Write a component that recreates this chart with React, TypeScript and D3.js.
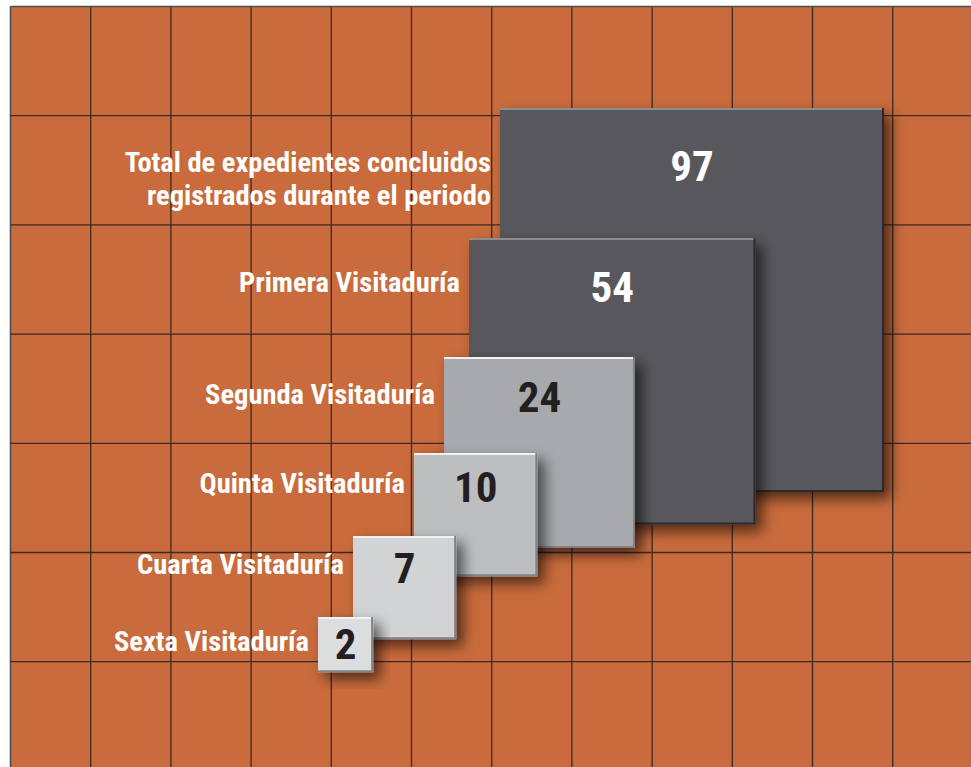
import React from "react";
import * as d3 from "d3";

const categories = [
  "Total de expedientes concluidos\nregistrados durante el periodo",
  "Primera Visitaduría",
  "Segunda Visitaduría",
  "Quinta Visitaduría",
  "Cuarta Visitaduría",
  "Sexta Visitaduría",
];
const values = [97, 54, 24, 10, 7, 2];

// layout (pixels): left / top anchor of each square
const anchorX = [500, 469, 444, 414, 353, 318];
const anchorY = [108, 238, 357, 453, 536, 617];
const fills = ["#58595B", "#58595B", "#A7A9AC", "#BCBEC0", "#D1D3D4", "#DCDDDE"];
const textFills = ["#FFFFFF", "#FFFFFF", "#231F20", "#231F20", "#231F20", "#231F20"];

const W = 971;
const H = 767;
const FONT = "'Liberation Sans Narrow', 'Arial Narrow', 'Roboto Condensed', sans-serif";

export default function App() {
  const side = d3.scaleSqrt().domain([0, 97]).range([0, 384]);
  const colX = d3.range(12).map((i) => 10.5 + i * 80.2);
  const rowY = d3.range(7).map((j) => 6.5 + j * 109.2);

  const order = d3.range(values.length);

  return (
    <div style={{ position: "absolute", left: 0, top: 0 }}>
      <svg width={W} height={H} style={{ display: "block" }}>
        <defs>
          <filter id="shadow" x="-20%" y="-20%" width="150%" height="150%">
            <feDropShadow dx="7" dy="7" stdDeviation="7" floodColor="#000" floodOpacity="0.6" />
          </filter>
        </defs>
        <rect x={0} y={0} width={W} height={H} fill="#fff" />
        <rect x={10.5} y={6.5} width={W} height={H} fill="#C96B3C" />
        {colX.map((x, i) => (
          <line key={"c" + i} x1={x} x2={x} y1={6.5} y2={H} stroke={i === 0 ? "#4d4d4d" : "#3b2a22"} strokeWidth={i === 0 ? 1.6 : 1.3} />
        ))}
        {rowY.map((y, j) => (
          <line key={"r" + j} x1={10.5} x2={W} y1={y} y2={y} stroke={j === 0 ? "#4d4d4d" : "#3b2a22"} strokeWidth={j === 0 ? 1.6 : 1.3} />
        ))}
        {order.map((i) => {
          const s = side(values[i]);
          const x = anchorX[i];
          const y = anchorY[i];
          const dark = i < 2;
          const numY = y + 22 + 0.095 * s;
          return (
            <g key={i}>
              <rect x={x} y={y} width={s} height={s} fill={fills[i]} filter="url(#shadow)" />
              <line x1={x} x2={x + s} y1={y + 1} y2={y + 1} stroke={dark ? "#8c8d8f" : "#f2f2f2"} strokeWidth={2} />
              <line x1={x + s - 1} x2={x + s - 1} y1={y} y2={y + s} stroke={dark ? "#2a2a2b" : "#808285"} strokeWidth={2} />
              <line x1={x} x2={x + s} y1={y + s - 1} y2={y + s - 1} stroke={dark ? "#2a2a2b" : "#808285"} strokeWidth={2} />
              <text
                x={x + s / 2}
                y={numY}
                textAnchor="middle"
                dominantBaseline="central"
                fill={textFills[i]}
                fontFamily={FONT}
                fontWeight="bold"
                fontSize={43}
              >
                {values[i]}
              </text>
              {categories[i].split("\n").map((line, k, arr) => (
                <text
                  key={k}
                  x={x - 9}
                  y={numY + (k - (arr.length - 1) / 2) * 33 + (arr.length > 1 ? 13 : i === 1 ? -5 : -3)}
                  textAnchor="end"
                  dominantBaseline="central"
                  fill="#FFFFFF"
                  fontFamily={FONT}
                  fontWeight="bold"
                  fontSize={28.5}
                >
                  {line}
                </text>
              ))}
            </g>
          );
        })}
      </svg>
    </div>
  );
}
